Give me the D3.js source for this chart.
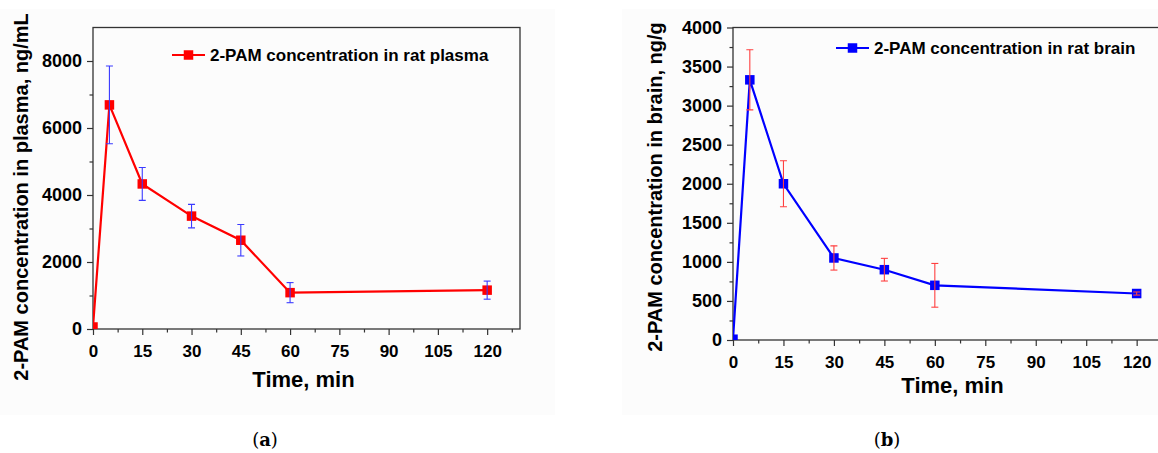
<!DOCTYPE html>
<html>
<head>
<meta charset="utf-8">
<script src="https://cdn.jsdelivr.net/npm/d3@7"></script>
<style>
  body { margin: 0; background: #fff; }
  svg { display: block; }
</style>
</head>
<body>
<svg id="chart" width="1158" height="453"></svg>
<script>

// time points, min
let times = [0, 5, 15, 30, 45, 60, 120]

// plasma, ng/mL
let plasmaMean = [60, 6690, 4330, 3370, 2650, 1085, 1160]
let plasmaSd = [0, 1160, 490, 350, 470, 300, 270]

// brain, ng/g
let brainMean = [10, 3330, 2000, 1050, 900, 700, 595]
let brainSd = [0, 385, 295, 155, 145, 280, 20]

let xTicks = [0, 15, 30, 45, 60, 75, 90, 105, 120]
let plasmaTicks = [0, 2000, 4000, 6000, 8000]
let brainTicks = [0, 500, 1000, 1500, 2000, 2500, 3000, 3500, 4000]

let svg = d3.select("#chart")
let font = "'Liberation Sans', Arial, sans-serif"

// faint panel backgrounds
svg.append("rect").attr("x", 0).attr("y", 9).attr("width", 555).attr("height", 406).attr("fill", "#fcfcfc")
svg.append("rect").attr("x", 622).attr("y", 9).attr("width", 536).attr("height", 406).attr("fill", "#fcfcfc")

let drawPanel = function (opt) {

    let g = svg.append("g").attr("id", opt.id)

    let x = d3.scaleLinear().domain([0, 130]).range(opt.xRange)
    let y = d3.scaleLinear().domain([0, opt.yMax]).range(opt.yRange)

    // frame
    let x0 = opt.xRange[0], x1 = opt.xRange[1]
    let y0 = opt.yRange[0], y1 = opt.yRange[1]
    g.append("rect")
        .attr("x", x0).attr("y", y1)
        .attr("width", x1 - x0).attr("height", y0 - y1)
        .attr("fill", "none")
        .attr("stroke", "#333")
        .attr("stroke-width", 1.3)

    // minor ticks
    let xMinor = d3.range(7.5, 130, 15)
    g.append("g")
        .attr("transform", "translate(0," + y0 + ")")
        .call(d3.axisBottom(x).tickValues(xMinor).tickSize(3.5).tickFormat(""))
        .call(a => a.select(".domain").remove())
    let yMinor = d3.range(opt.yMinor, opt.yMax, opt.yMinor * 2)
    g.append("g")
        .attr("transform", "translate(" + x0 + ",0)")
        .call(d3.axisLeft(y).tickValues(yMinor).tickSize(3.5).tickFormat(""))
        .call(a => a.select(".domain").remove())

    // major ticks
    let xAxis = g.append("g")
        .attr("transform", "translate(0," + y0 + ")")
        .call(d3.axisBottom(x).tickValues(xTicks).tickSize(6).tickPadding(6).tickFormat(d3.format("d")))
    xAxis.select(".domain").remove()
    xAxis.selectAll("text")
        .attr("font-family", font).attr("font-weight", "bold")
        .attr("font-size", 17).attr("fill", "#000")
        .attr("dy", "0.95em")

    let yAxis = g.append("g")
        .attr("transform", "translate(" + x0 + ",0)")
        .call(d3.axisLeft(y).tickValues(opt.yTicks).tickSize(6).tickPadding(5).tickFormat(d3.format("d")))
    yAxis.select(".domain").remove()
    yAxis.selectAll("text")
        .attr("font-family", font).attr("font-weight", "bold")
        .attr("font-size", 18).attr("fill", "#000")

    g.selectAll(".tick line").attr("stroke", "#333").attr("stroke-width", 1.2)

    // axis titles
    g.append("text")
        .attr("x", (x0 + Math.min(x1, 1158)) / 2 + opt.xTitleShift)
        .attr("y", opt.xTitleY)
        .attr("text-anchor", "middle")
        .attr("font-family", font).attr("font-weight", "bold")
        .attr("font-size", 22)
        .text("Time, min")

    g.append("text")
        .attr("transform", "translate(" + opt.yTitleX + "," + opt.yTitleY + ") rotate(-90)")
        .attr("text-anchor", "middle")
        .attr("font-family", font).attr("font-weight", "bold")
        .attr("font-size", 20)
        .text(opt.yTitle)

    // data, clipped to the plot area
    g.append("clipPath").attr("id", opt.id + "-clip")
        .append("rect")
        .attr("x", x0).attr("y", y1)
        .attr("width", x1 - x0).attr("height", y0 - y1)

    let plot = g.append("g").attr("clip-path", "url(#" + opt.id + "-clip)")

    let points = times.map((t, i) => ({ t: t, v: opt.mean[i], sd: opt.sd[i] }))

    let GenLine = d3.line()
        .x((p) => x(p.t))
        .y((p) => y(p.v))

    plot.append("path")
        .attr("d", GenLine(points))
        .attr("fill", "none")
        .attr("stroke", opt.color)
        .attr("stroke-width", 2.2)

    let size = 9.5
    plot.selectAll("rect.marker")
        .data(points)
        .join("rect")
        .attr("class", "marker")
        .attr("x", (p) => x(p.t) - size / 2)
        .attr("y", (p) => y(p.v) - size / 2)
        .attr("width", size).attr("height", size)
        .attr("fill", opt.color)

    // error bars
    let bars = plot.selectAll("g.err")
        .data(points.filter((p) => p.sd > 0))
        .join("g")
        .attr("class", "err")
        .attr("stroke", opt.errColor)
        .attr("stroke-width", 1.1)
    bars.append("line")
        .attr("x1", (p) => x(p.t)).attr("x2", (p) => x(p.t))
        .attr("y1", (p) => y(p.v + p.sd)).attr("y2", (p) => y(p.v - p.sd))
    bars.append("line")
        .attr("x1", (p) => x(p.t) - 3.5).attr("x2", (p) => x(p.t) + 3.5)
        .attr("y1", (p) => y(p.v + p.sd)).attr("y2", (p) => y(p.v + p.sd))
    bars.append("line")
        .attr("x1", (p) => x(p.t) - 3.5).attr("x2", (p) => x(p.t) + 3.5)
        .attr("y1", (p) => y(p.v - p.sd)).attr("y2", (p) => y(p.v - p.sd))

    // legend
    let lx = opt.legendX, ly = opt.legendY
    g.append("line")
        .attr("x1", lx).attr("x2", lx + 33)
        .attr("y1", ly).attr("y2", ly)
        .attr("stroke", opt.color).attr("stroke-width", 2.2)
    g.append("rect")
        .attr("x", lx + 16.5 - size / 2).attr("y", ly - size / 2)
        .attr("width", size).attr("height", size)
        .attr("fill", opt.color)
    g.append("text")
        .attr("x", lx + 38).attr("y", ly + 6)
        .attr("font-family", font).attr("font-weight", "bold")
        .attr("font-size", 17)
        .text(opt.legend)

    // caption
    let cap = g.append("text")
        .attr("x", opt.capX).attr("y", 446)
        .attr("text-anchor", "middle")
        .attr("font-family", "'DejaVu Serif', 'Liberation Serif', serif")
        .attr("font-size", 18)
    cap.append("tspan").text("(")
    cap.append("tspan").attr("font-weight", "bold").text(opt.capLetter)
    cap.append("tspan").text(")")
}

drawPanel({
    id: "plasma",
    xRange: [93, 520],
    yRange: [329, 27.5],
    yMax: 9000,
    yTicks: plasmaTicks,
    yMinor: 1000,
    mean: plasmaMean,
    sd: plasmaSd,
    color: "#ff0000",
    errColor: "#3a3aff",
    xTitleY: 387,
    xTitleShift: -3,
    yTitleX: 28,
    yTitleY: 197,
    yTitle: "2-PAM concentration in plasma, ng/mL",
    legendX: 172,
    legendY: 55,
    legend: "2-PAM concentration in rat plasma",
    capX: 265,
    capLetter: "a"
})

drawPanel({
    id: "brain",
    xRange: [733, 1170.3],
    yRange: [340, 27.5],
    yMax: 4000,
    yTicks: brainTicks,
    yMinor: 250,
    mean: brainMean,
    sd: brainSd,
    color: "#0000ff",
    errColor: "#ff4040",
    xTitleY: 393,
    xTitleShift: 7,
    yTitleX: 662,
    yTitleY: 187,
    yTitle: "2-PAM concentration in brain, ng/g",
    legendX: 836,
    legendY: 48,
    legend: "2-PAM concentration in rat brain",
    capX: 887,
    capLetter: "b"
})

</script>
</body>
</html>
